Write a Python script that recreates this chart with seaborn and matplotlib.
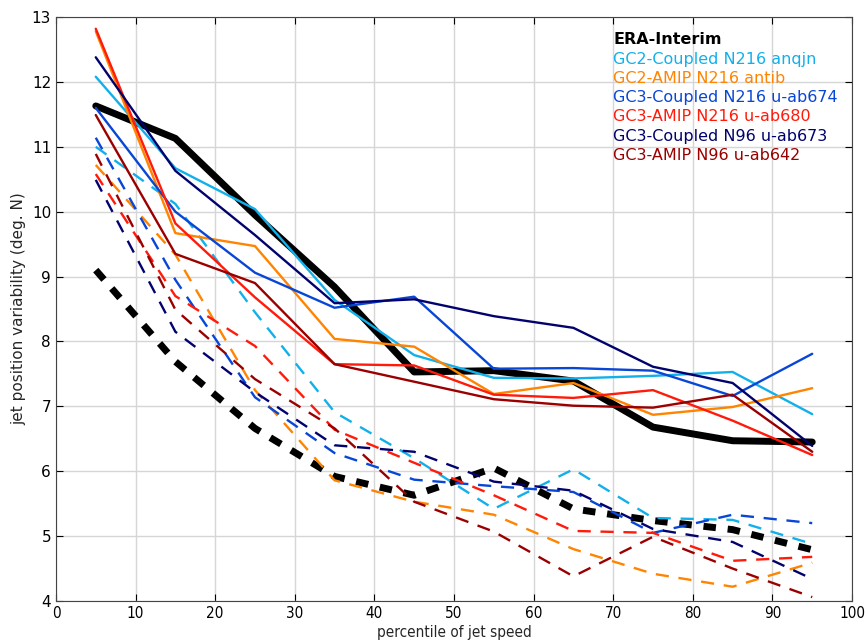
import numpy as np
import pandas as pd
import seaborn as sns
import matplotlib.pyplot as plt

# percentile bins of jet speed
pct = [5, 15, 25, 35, 45, 55, 65, 75, 85, 95]

names = ['ERA-Interim',
         'GC2-Coupled N216 anqjn',
         'GC2-AMIP N216 antib',
         'GC3-Coupled N216 u-ab674',
         'GC3-AMIP N216 u-ab680',
         'GC3-Coupled N96 u-ab673',
         'GC3-AMIP N96 u-ab642']
colors = ['black', '#12b0ea', '#ff8400', '#0846d6', '#ff1a0a', '#02026e', '#9a0000']

# solid = one statistic, dashed = the other
era_solid = [11.63, 11.13, 9.95, 8.84, 7.53, 7.55, 7.39, 6.68, 6.47, 6.45]
era_dashed = [9.10, 7.69, 6.66, 5.92, 5.63, 6.05, 5.42, 5.24, 5.10, 4.79]
gc2c_solid = [12.08, 10.67, 10.04, 8.64, 7.79, 7.44, 7.43, 7.47, 7.53, 6.88]
gc2c_dashed = [11.00, 10.12, 8.45, 6.91, 6.20, 5.42, 6.03, 5.28, 5.25, 4.88]
gc2a_solid = [12.78, 9.67, 9.47, 8.04, 7.92, 7.19, 7.36, 6.87, 6.99, 7.28]
gc2a_dashed = [10.72, 9.34, 7.25, 5.86, 5.53, 5.33, 4.80, 4.42, 4.22, 4.59]
gc3c216_solid = [11.60, 10.00, 9.06, 8.52, 8.69, 7.58, 7.59, 7.55, 7.16, 7.81]
gc3c216_dashed = [11.14, 8.95, 7.14, 6.28, 5.87, 5.77, 5.68, 5.05, 5.33, 5.20]
gc3a216_solid = [12.82, 9.82, 8.68, 7.65, 7.63, 7.18, 7.13, 7.25, 6.78, 6.25]
gc3a216_dashed = [10.58, 8.70, 7.93, 6.64, 6.13, 5.63, 5.08, 5.05, 4.62, 4.68]
gc3c96_solid = [12.38, 10.63, 9.64, 8.59, 8.65, 8.39, 8.21, 7.61, 7.36, 6.39]
gc3c96_dashed = [10.49, 8.15, 7.22, 6.40, 6.30, 5.84, 5.70, 5.11, 4.91, 4.34]
gc3a96_solid = [11.49, 9.35, 8.90, 7.65, 7.38, 7.11, 7.01, 6.98, 7.18, 6.30]
gc3a96_dashed = [10.89, 8.49, 7.42, 6.66, 5.53, 5.07, 4.38, 4.99, 4.50, 4.06]

solids = [era_solid, gc2c_solid, gc2a_solid, gc3c216_solid,
          gc3a216_solid, gc3c96_solid, gc3a96_solid]
dasheds = [era_dashed, gc2c_dashed, gc2a_dashed, gc3c216_dashed,
           gc3a216_dashed, gc3c96_dashed, gc3a96_dashed]

sns.set_style('ticks')
plt.rcParams['font.family'] = ['DejaVu Sans']
plt.rcParams['lines.scale_dashes'] = False

fig = plt.figure(figsize=(8.65, 6.41), dpi=100)
ax = fig.add_axes([0.0647, 0.0624, 0.9203, 0.911])

for i, name in enumerate(names):
    lw = 5.0 if i == 0 else 1.7
    dash = (9.0, 8.5) if i == 0 else (9.5, 7.0)
    sns.lineplot(x=pct, y=solids[i], ax=ax, color=colors[i], lw=lw,
                 label=name, errorbar=None)
    sns.lineplot(x=pct, y=dasheds[i], ax=ax, color=colors[i], lw=lw,
                 linestyle=(0, dash), label='_nolegend_', errorbar=None)

ax.set_xlim(0, 100)
ax.set_ylim(4, 13)
ax.set_xticks(np.arange(0, 101, 10))
ax.set_yticks(np.arange(4, 14, 1))
ax.grid(True, color='#d6d6d6', lw=1)
ax.tick_params(direction='in', top=True, right=True, length=5,
               labelsize=11, colors='black')
for lab in ax.get_xticklabels():
    lab.set_fontstretch('condensed')
for sp in ax.spines.values():
    sp.set_color('#444444')
ax.set_xlabel('percentile of jet speed', fontsize=11, fontstretch='condensed',
              labelpad=3)
ax.set_ylabel('jet position variability (deg. N)', fontsize=11, labelpad=4)

leg = ax.legend(loc='upper left', bbox_to_anchor=(0.70, 0.974), frameon=False,
                handlelength=0, handletextpad=0, borderpad=0, borderaxespad=0,
                fontsize=11.5, labelspacing=0.27)
for h in leg.legend_handles:
    h.set_visible(False)
for txt, c in zip(leg.get_texts(), colors):
    txt.set_color(c)
leg.get_texts()[0].set_fontweight('bold')

plt.savefig('out.png', dpi=100)
